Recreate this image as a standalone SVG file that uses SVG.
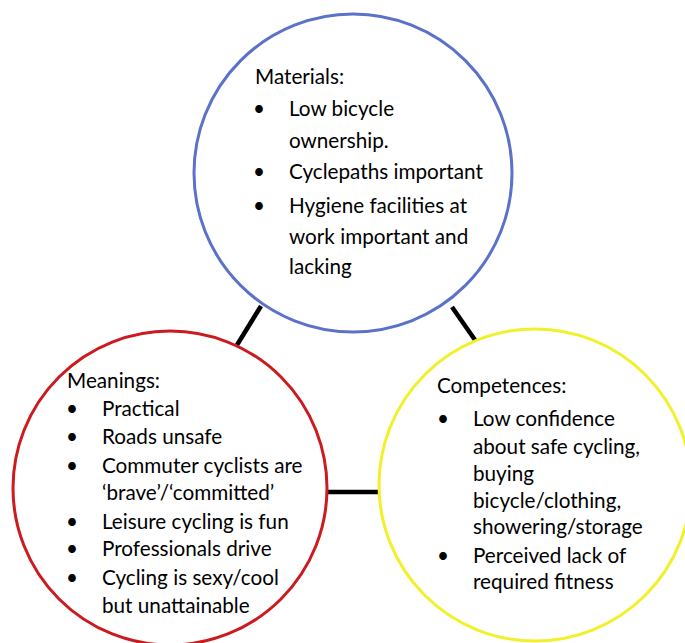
<svg xmlns="http://www.w3.org/2000/svg" width="685" height="643" viewBox="0 0 685 643">
<style>
.c{fill:#ffffff;stroke-width:3}
.t{font-family:Lato,"Liberation Sans",sans-serif;font-size:20.7px;fill:#000000}
.k{stroke:#000000;stroke-width:4.5;fill:none}
</style>
<rect width="685" height="643" fill="#ffffff"/>
<g id="connectors">
<line class="k" x1="261" y1="306" x2="237" y2="345"/>
<line class="k" x1="452" y1="307" x2="475" y2="340"/>
<line class="k" x1="327" y1="492" x2="379" y2="492"/>
</g>
<g id="materials">
<circle class="c" cx="353" cy="173" r="159" stroke="#5b72c8"/>
<text class="t" x="255" y="84">Materials:</text>
<text class="t" x="253" y="116">•</text>
<text class="t" x="289" y="116">Low bicycle</text>
<text class="t" x="289" y="148">ownership.</text>
<text class="t" x="253" y="179">•</text>
<text class="t" x="289" y="179">Cyclepaths important</text>
<text class="t" x="253" y="213">•</text>
<text class="t" x="289" y="213">Hygiene facilities at</text>
<text class="t" x="289" y="244">work important and</text>
<text class="t" x="289" y="274">lacking</text>
</g>
<g id="meanings">
<circle class="c" cx="170" cy="488" r="157" stroke="#cc1b1f"/>
<text class="t" x="67" y="388">Meanings:</text>
<text class="t" x="66" y="416">•</text>
<text class="t" x="102" y="416">Practical</text>
<text class="t" x="66" y="444">•</text>
<text class="t" x="102" y="444">Roads unsafe</text>
<text class="t" x="66" y="473">•</text>
<text class="t" x="102" y="473">Commuter cyclists are</text>
<text class="t" x="102" y="500">‘brave’/‘committed’</text>
<text class="t" x="66" y="529">•</text>
<text class="t" x="102" y="529">Leisure cycling is fun</text>
<text class="t" x="66" y="556">•</text>
<text class="t" x="102" y="556">Professionals drive</text>
<text class="t" x="66" y="585">•</text>
<text class="t" x="102" y="585">Cycling is sexy/cool</text>
<text class="t" x="102" y="613">but unattainable</text>
</g>
<g id="competences">
<circle class="c" cx="535" cy="485" r="156" stroke="#f2f02a"/>
<text class="t" x="437" y="393">Competences:</text>
<text class="t" x="437" y="426">•</text>
<text class="t" x="473" y="426">Low confidence</text>
<text class="t" x="473" y="454">about safe cycling,</text>
<text class="t" x="473" y="481">buying</text>
<text class="t" x="473" y="508">bicycle/clothing,</text>
<text class="t" x="473" y="534">showering/storage</text>
<text class="t" x="437" y="563">•</text>
<text class="t" x="473" y="563">Perceived lack of</text>
<text class="t" x="473" y="589">required fitness</text>
</g>
</svg>
